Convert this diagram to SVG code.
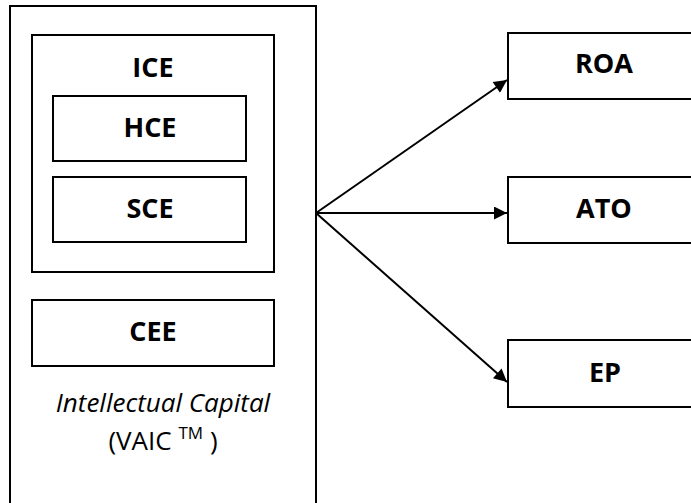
<svg xmlns="http://www.w3.org/2000/svg" width="691" height="503" viewBox="0 0 691 503">
<style>
.box{fill:#fff;stroke:#000;stroke-width:2}
.lbl{font-family:"Open Sans","Liberation Sans",sans-serif;font-weight:bold;font-size:27px;text-anchor:middle;fill:#000}
.cap{font-family:"Open Sans","Liberation Sans",sans-serif;font-size:26px;text-anchor:middle;fill:#000}
.con{stroke:#000;stroke-width:2;fill:none;marker-end:url(#ah)}
</style>
<defs>
<marker id="ah" viewBox="0 0 10 10" refX="10" refY="5" markerWidth="7.5" markerHeight="6.5" orient="auto" markerUnits="strokeWidth">
<path d="M0,0 L10,5 L0,10 Z" fill="#000"/>
</marker>
</defs>
<rect width="691" height="503" fill="#fff"/>
<g id="vaic">
<rect class="box" x="10" y="6" width="306" height="510"/>
<text class="cap" x="163" y="412" font-style="italic">Intellectual Capital</text>
<text class="cap" x="163" y="450">(VAIC <tspan font-size="17" dy="-11">TM</tspan><tspan dy="11"> )</tspan></text>
</g>
<g id="ice">
<rect class="box" x="32" y="35" width="242" height="237"/>
<text class="lbl" x="153" y="77">ICE</text>
</g>
<g id="hce">
<rect class="box" x="53" y="96" width="193" height="65"/>
<text class="lbl" x="150" y="137">HCE</text>
</g>
<g id="sce">
<rect class="box" x="53" y="177" width="193" height="65"/>
<text class="lbl" x="150" y="218">SCE</text>
</g>
<g id="cee">
<rect class="box" x="32" y="300" width="242" height="66"/>
<text class="lbl" x="153" y="341">CEE</text>
</g>
<g id="roa">
<rect class="box" x="508" y="33" width="200" height="66"/>
<text class="lbl" x="604" y="73">ROA</text>
</g>
<g id="ato">
<rect class="box" x="508" y="177" width="200" height="66"/>
<text class="lbl" x="604" y="218">ATO</text>
</g>
<g id="ep">
<rect class="box" x="508" y="340" width="200" height="67"/>
<text class="lbl" x="605" y="382">EP</text>
</g>
<g id="connectors">
<line class="con" x1="316" y1="213" x2="507" y2="80"/>
<line class="con" x1="316" y1="213" x2="507" y2="213"/>
<line class="con" x1="316" y1="213" x2="507" y2="382"/>
</g>
</svg>
